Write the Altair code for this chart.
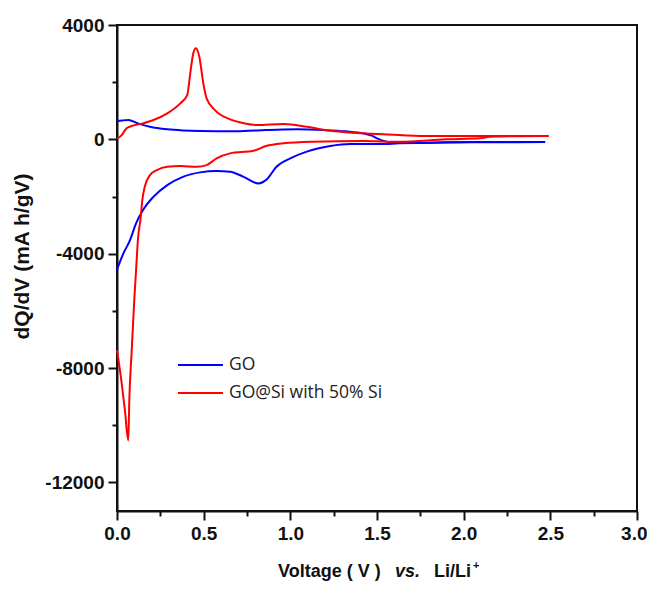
import altair as alt
import pandas as pd

# ---- data (V vs. Li/Li+, dQ/dV in mA h/gV) ----
go_up_v = [0.00, 0.03, 0.065, 0.12, 0.19, 0.29, 0.38, 0.48, 0.58, 0.652, 0.76, 0.86, 0.96, 1.04, 1.19, 1.32, 1.42, 1.47, 1.5, 1.555, 1.63, 1.75, 1.9, 2.1, 2.3, 2.47]
go_up_q = [640, 660, 675, 560, 440, 350, 310, 290, 285, 280, 300, 325, 345, 350, 325, 280, 210, 130, 35, -80, -130, -120, -105, -95, -95, -95]

go_dn_v = [2.47, 2.3, 2.1, 1.9, 1.75, 1.63, 1.52, 1.345, 1.23, 1.095, 1.0, 0.92, 0.864, 0.815, 0.73, 0.652, 0.575, 0.48, 0.38, 0.29, 0.21, 0.15, 0.11, 0.075, 0.037, 0.0]
go_dn_q = [-95, -100, -100, -110, -125, -140, -165, -165, -235, -430, -665, -960, -1400, -1540, -1310, -1130, -1110, -1155, -1310, -1600, -2010, -2475, -2940, -3525, -3990, -4550]

si_up_v = [0.0, 0.027, 0.055, 0.085, 0.15, 0.21, 0.29, 0.365, 0.405, 0.425, 0.44, 0.455, 0.475, 0.498, 0.517, 0.565, 0.652, 0.72, 0.806, 0.96, 1.095, 1.23, 1.42, 1.63, 1.81, 2.0, 2.11, 2.3, 2.49]
si_up_q = [20, 150, 385, 465, 560, 675, 910, 1260, 1550, 2425, 3010, 3185, 2890, 1960, 1435, 1025, 700, 580, 500, 535, 440, 300, 210, 150, 115, 115, 115, 120, 115]

si_dn_v = [2.49, 2.3, 2.15, 2.095, 1.9, 1.63, 1.42, 1.13, 0.96, 0.86, 0.787, 0.652, 0.575, 0.517, 0.46, 0.365, 0.29, 0.23, 0.19, 0.16, 0.146, 0.135, 0.122, 0.11, 0.1, 0.085, 0.071, 0.065, 0.046, 0.027, 0.0]
si_dn_q = [115, 110, 90, 35, 0, -85, -60, -85, -140, -235, -400, -490, -665, -900, -960, -935, -960, -1075, -1250, -1660, -2125, -2825, -3410, -4575, -5575, -7375, -9125, -10530, -9500, -8525, -7375]

series_names = ["GO", "GO@Si with 50% Si"]
series_colors = ["#0000FF", "#FF0000"]

y_ticks = list(range(-12000, 4001, 2000))
x_ticks = [i * 0.25 for i in range(13)]

rows = []
for name, branch, vs, qs in [
    (series_names[0], "GO-up", go_up_v, go_up_q),
    (series_names[0], "GO-down", go_dn_v, go_dn_q),
    (series_names[1], "Si-up", si_up_v, si_up_q),
    (series_names[1], "Si-down", si_dn_v, si_dn_q),
]:
    for i, (v, q) in enumerate(zip(vs, qs)):
        rows.append({"V": v, "Q": q, "series": name, "branch": branch, "idx": i})
df = pd.DataFrame(rows)

FONT = "Liberation Sans"

lines = alt.Chart(df).mark_line(strokeWidth=2, interpolate="monotone").encode(
    x=alt.X("V:Q",
            scale=alt.Scale(domain=[0, 3], nice=False, zero=False),
            axis=alt.Axis(values=x_ticks, title=None,
                          labelExpr="round(datum.value*4) % 2 === 0 ? format(datum.value, '.1f') : ''",
                          tickSize={"condition": {"test": "round(datum.value*4) % 2 === 0", "value": 9}, "value": 5},
                          labelAlign={"condition": {"test": "datum.value >= 3", "value": "right"}, "value": "center"},
                          labelOffset={"condition": {"test": "datum.value >= 3", "value": 10}, "value": 0},
                          labelFontSize=19, labelPadding=4, labelFlush=False, labelOverlap=False)),
    y=alt.Y("Q:Q",
            scale=alt.Scale(domain=[-13000, 4000], nice=False, zero=False),
            axis=alt.Axis(values=y_ticks, title="dQ/dV (mA h/gV)",
                          labelExpr="datum.value % 4000 === 0 ? toString(datum.value) : ''",
                          tickSize={"condition": {"test": "datum.value % 4000 === 0", "value": 9}, "value": 5},
                          labelFontSize=19, labelPadding=4, labelFlush=False, labelOverlap=False,
                          titleFontSize=21, titleX=-95, titleY=231, titleAngle=-90,
                          titleAlign="center", titleBaseline="middle")),
    color=alt.Color("series:N", scale=alt.Scale(domain=series_names, range=series_colors), legend=None),
    detail="branch:N",
    order="idx:Q",
)

# manual legend
leg_layers = []
for name, col, yy in zip(series_names, series_colors, [340, 368]):
    d = alt.Data(values=[{"label": name}])
    leg_layers.append(alt.Chart(d).mark_rule(strokeWidth=2, color=col).encode(
        x=alt.value(61), x2=alt.value(106), y=alt.value(yy)))
    leg_layers.append(alt.Chart(d).mark_text(align="left", baseline="middle", font="Open Sans",
                                             fontSize=17.5, color="#222").encode(
        x=alt.value(112), y=alt.value(yy), text="label:N"))

# x-axis title with mixed styles
xt = alt.Data(values=[{"a": "Voltage ( V )", "b": "vs.", "c": "Li/Li", "d": "+"}])
TY = 552
xt1 = alt.Chart(xt).mark_text(align="left", baseline="alphabetic", font=FONT, fontSize=18,
                              fontWeight="bold", color="#111").encode(
    x=alt.value(161), y=alt.value(TY), text="a:N")
xt2 = alt.Chart(xt).mark_text(align="left", baseline="alphabetic", font=FONT, fontSize=18,
                              fontWeight="bold", fontStyle="italic", color="#111").encode(
    x=alt.value(278), y=alt.value(TY), text="b:N")
xt3 = alt.Chart(xt).mark_text(align="left", baseline="alphabetic", font=FONT, fontSize=18,
                              fontWeight="bold", color="#111").encode(
    x=alt.value(317), y=alt.value(TY), text="c:N")
xt4 = alt.Chart(xt).mark_text(align="left", baseline="alphabetic", font=FONT, fontSize=11,
                              fontWeight="bold", color="#111").encode(
    x=alt.value(356), y=alt.value(TY - 8), text="d:N")

chart = alt.layer(lines, *leg_layers, xt1, xt2, xt3, xt4).properties(
    width=520, height=486,
    autosize=alt.AutoSizeParams(type="none"),
    padding={"left": 109, "top": 17, "right": 10, "bottom": 70},
).configure_view(stroke="#111", strokeWidth=2).configure_axis(
    domainColor="#111", domainWidth=2, tickColor="#111", tickWidth=2,
    labelFont=FONT, labelFontWeight="bold", labelColor="#111",
    titleFont=FONT, titleFontWeight="bold", titleColor="#111", grid=False,
)

chart.save("out.html", embed_options={"renderer": "svg", "actions": False})
